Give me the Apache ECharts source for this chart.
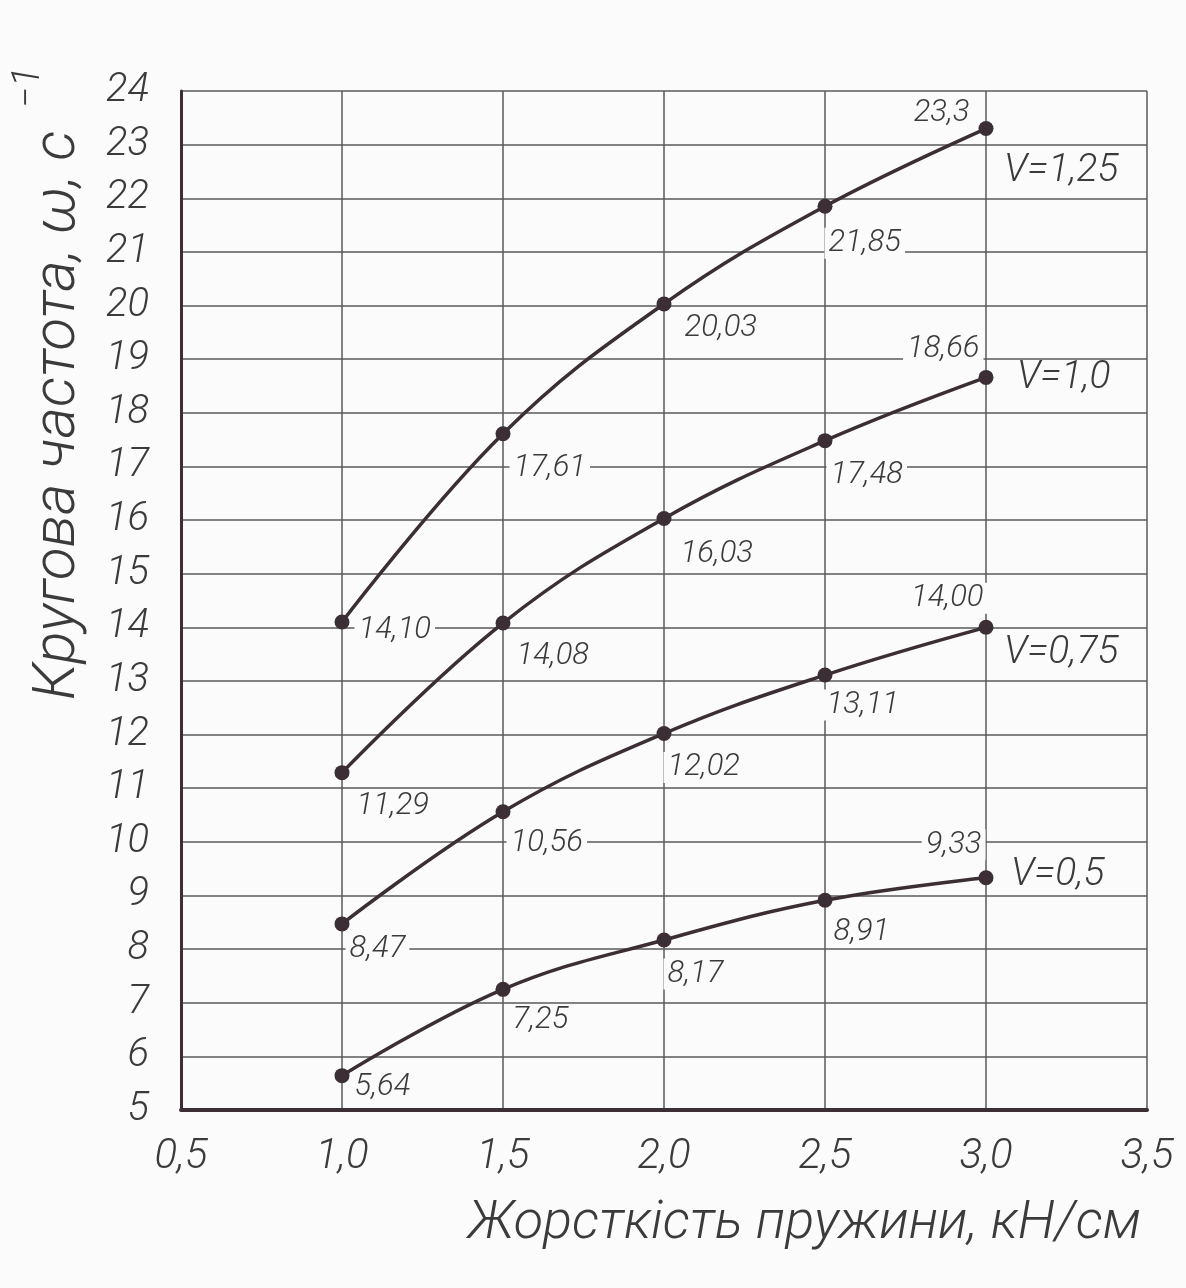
<!DOCTYPE html>
<html>
<head>
<meta charset="utf-8">
<script src="https://cdn.jsdelivr.net/npm/echarts@6/dist/echarts.min.js"></script>
<style>
html,body{margin:0;padding:0;background:#fbfbfb;}
#chart{width:1186px;height:1288px;}
</style>
</head>
<body>
<div id="chart"></div>
<script>
// ---- data ----
const xValues = [1.0, 1.5, 2.0, 2.5, 3.0];
const seriesNames = ['V=1,25', 'V=1,0', 'V=0,75', 'V=0,5'];
const v125 = [14.10, 17.61, 20.03, 21.85, 23.3];
const v100 = [11.29, 14.08, 16.03, 17.48, 18.66];
const v075 = [8.47, 10.56, 12.02, 13.11, 14.00];
const v050 = [5.64, 7.25, 8.17, 8.91, 9.33];
const v125Text = ['14,10', '17,61', '20,03', '21,85', '23,3'];
const v100Text = ['11,29', '14,08', '16,03', '17,48', '18,66'];
const v075Text = ['8,47', '10,56', '12,02', '13,11', '14,00'];
const v050Text = ['5,64', '7,25', '8,17', '8,91', '9,33'];
const xTicks = [0.5, 1.0, 1.5, 2.0, 2.5, 3.0, 3.5];
const yTicks = [5, 6, 7, 8, 9, 10, 11, 12, 13, 14, 15, 16, 17, 18, 19, 20, 21, 22, 23, 24];
const xTitle = 'Жорсткість пружини, кН/см';
const yTitle = 'Кругова частота, ω, с';
const ySup = '−1';

// ---- layout (label placement per point) ----
const labelLayout = [
  [['right', 0, 8], ['right', -6, 35], ['right', 4, 24], ['right', -13, 37], ['left', 0, -15]],
  [['right', -2, 34], ['right', -3, 33], ['right', 0, 36], ['right', -11, 35], ['left', 10, -28]],
  [['right', -9, 25], ['right', -9, 31], ['right', -13, 34], ['right', -15, 30], ['left', 14, -29]],
  [['right', -4, 12], ['right', -7, 31], ['right', -13, 34], ['right', -8, 32], ['left', 12, -33]]
];
const endLabelOffsets = [[13, 43], [26, 1], [13, 26], [20, -3]];

const FONT = "Roboto, 'Liberation Sans', sans-serif";
const INK = '#3b3b3b';
const LINE = '#3b2f35';
const BG = '#fbfbfb';

const allValues = [v125, v100, v075, v050];
const allTexts = [v125Text, v100Text, v075Text, v050Text];

const series = allValues.map((vals, si) => ({
  name: seriesNames[si],
  type: 'line',
  smooth: 0.4,
  symbol: 'circle',
  symbolSize: 15,
  lineStyle: { color: LINE, width: 3.5 },
  itemStyle: { color: LINE },
  z: 5,
  data: vals.map((v, i) => {
    const L = labelLayout[si][i];
    return {
      value: [xValues[i], v],
      label: {
        show: true,
        position: L[0],
        distance: 5,
        offset: [L[1], L[2]],
        formatter: () => allTexts[si][i],
        fontFamily: FONT,
        fontStyle: 'italic',
        fontWeight: 300,
        fontSize: 31,
        color: INK,
        backgroundColor: BG,
        padding: [0, 4]
      }
    };
  }),
  endLabel: {
    show: true,
    formatter: () => seriesNames[si],
    distance: 5,
    offset: endLabelOffsets[si],
    fontFamily: FONT,
    fontStyle: 'italic',
    fontWeight: 300,
    fontSize: 39,
    color: INK
  },
  emphasis: { disabled: true }
}));

const chart = echarts.init(document.getElementById('chart'), null, { renderer: 'canvas' });
chart.setOption({
  backgroundColor: BG,
  animation: false,
  grid: { left: 181, right: 39, top: 91, bottom: 178, containLabel: false },
  title: {
    text: xTitle,
    right: 40,
    top: 1192,
    textStyle: { fontFamily: FONT, fontStyle: 'italic', fontWeight: 300, fontSize: 54, color: INK }
  },
  xAxis: {
    type: 'value',
    min: xTicks[0],
    max: xTicks[xTicks.length - 1],
    interval: 0.5,
    axisLine: { show: true, onZero: false, lineStyle: { color: LINE, width: 4 } },
    axisTick: { show: false },
    splitLine: { show: true, lineStyle: { color: '#5a5a5a', width: 1.5 } },
    axisLabel: {
      margin: 26,
      fontFamily: FONT, fontStyle: 'italic', fontWeight: 300, fontSize: 42, color: INK,
      formatter: v => v.toFixed(1).replace('.', ',')
    }
  },
  yAxis: {
    type: 'value',
    min: yTicks[0],
    max: yTicks[yTicks.length - 1],
    interval: 1,
    name: yTitle,
    nameLocation: 'middle',
    nameRotate: 90,
    nameGap: 92,
    nameTextStyle: {
      fontFamily: FONT, fontStyle: 'italic', fontWeight: 300, fontSize: 60, color: INK,
      padding: [0, 0, 0, 370]
    },
    axisLine: { show: true, onZero: false, lineStyle: { color: LINE, width: 3 } },
    axisTick: { show: false },
    splitLine: { show: true, lineStyle: { color: '#5a5a5a', width: 1.5 } },
    axisLabel: {
      margin: 32,
      fontFamily: FONT, fontStyle: 'italic', fontWeight: 300, fontSize: 40, color: INK
    }
  },
  graphic: [{
    type: 'text',
    x: 10, y: 108,
    rotation: Math.PI / 2,
    style: { text: ySup, font: 'italic 300 38px ' + FONT, fill: INK }
  }],
  series: series
});
</script>
</body>
</html>
